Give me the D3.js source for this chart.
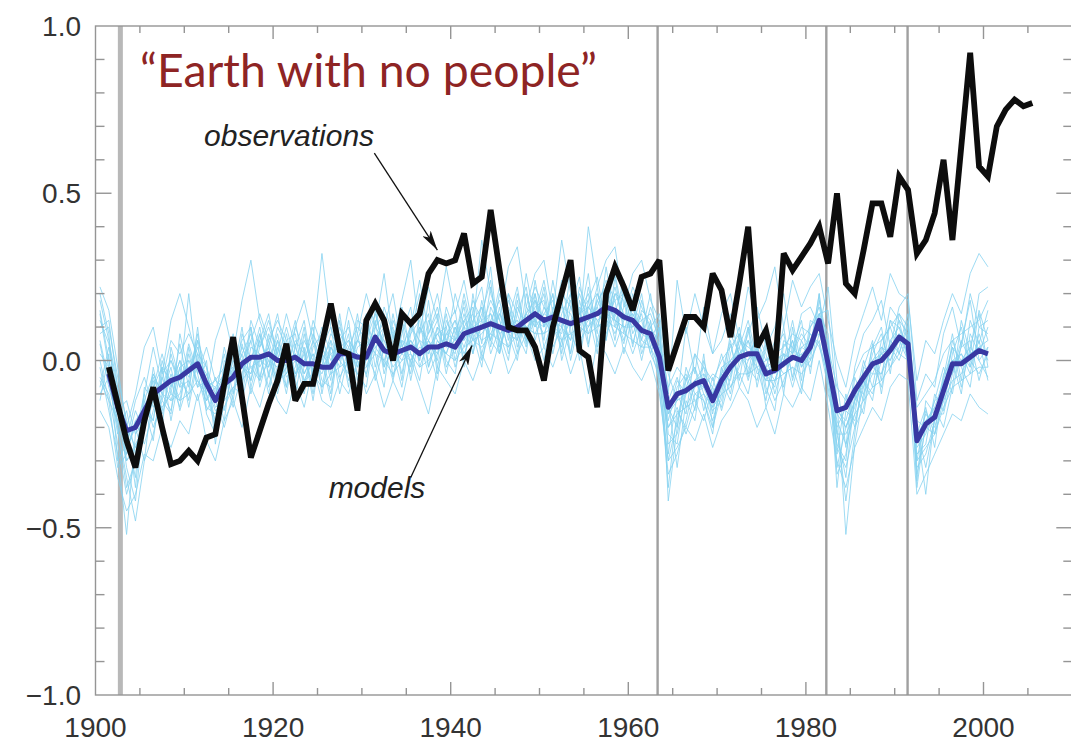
<!DOCTYPE html>
<html>
<head>
<meta charset="utf-8">
<script src="https://cdn.jsdelivr.net/npm/d3@7"></script>
<style>
  html, body { margin: 0; padding: 0; background: #fff; }
  svg { display: block; }
</style>
</head>
<body>
<svg id="chart" width="1071" height="743"></svg>
<script>
// Global mean temperature anomaly (°C, relative to 1901-1950), annual values.
const obsStart = 1901;
const observations = [
  -0.02, -0.13, -0.24, -0.32, -0.18, -0.08, -0.20, -0.31, -0.30,            // 1901-1909
  -0.27, -0.30, -0.23, -0.22, -0.07, 0.07, -0.11, -0.29, -0.21, -0.13,     // 1910s
  -0.06, 0.05, -0.12, -0.07, -0.07, 0.05, 0.17, 0.03, 0.02, -0.15,         // 1920s
  0.12, 0.17, 0.12, 0.00, 0.14, 0.11, 0.14, 0.26, 0.30, 0.29,              // 1930s
  0.30, 0.38, 0.23, 0.25, 0.45, 0.27, 0.10, 0.09, 0.09, 0.04,              // 1940s
  -0.06, 0.10, 0.20, 0.30, 0.03, 0.01, -0.14, 0.20, 0.28, 0.22,            // 1950s
  0.15, 0.25, 0.26, 0.30, -0.03, 0.05, 0.13, 0.13, 0.10, 0.26,             // 1960s
  0.21, 0.07, 0.23, 0.40, 0.04, 0.09, -0.03, 0.32, 0.27, 0.31,             // 1970s
  0.35, 0.40, 0.29, 0.50, 0.23, 0.20, 0.33, 0.47, 0.47, 0.37,              // 1980s
  0.55, 0.51, 0.32, 0.36, 0.44, 0.60, 0.36, 0.64, 0.92, 0.58,              // 1990s
  0.55, 0.70, 0.75, 0.78, 0.76, 0.77                                       // 2000-2005
];

// Ensemble mean of the natural-forcing simulations
const meanStart = 1901;
const modelMean = [
  -0.04, -0.14, -0.21, -0.20, -0.15, -0.10, -0.08, -0.06, -0.05,
  -0.03, -0.01, -0.07, -0.12, -0.07, -0.05, -0.01, 0.01, 0.01, 0.02,
  0.00, 0.00, 0.01, -0.01, -0.01, -0.02, -0.02, 0.02, 0.02, 0.01,
  0.01, 0.07, 0.03, 0.02, 0.03, 0.04, 0.02, 0.04, 0.04, 0.05,
  0.04, 0.08, 0.09, 0.10, 0.11, 0.10, 0.09, 0.10, 0.12, 0.14,
  0.12, 0.13, 0.12, 0.11, 0.12, 0.13, 0.14, 0.16, 0.15, 0.13,
  0.12, 0.09, 0.08, 0.01, -0.14, -0.10, -0.09, -0.07, -0.06, -0.12,
  -0.06, -0.02, 0.01, 0.02, 0.02, -0.04, -0.03, -0.01, 0.01, 0.00,
  0.04, 0.12, -0.01, -0.15, -0.14, -0.09, -0.05, -0.01, 0.00, 0.03,
  0.07, 0.05, -0.24, -0.19, -0.17, -0.09, -0.01, -0.01, 0.01, 0.03,
  0.02
];

// Individual simulations, 1900-2000
const runStart = 1900;
const run01 = [0.12,0.05,-0.10,-0.30,-0.25,-0.20,-0.05,-0.12,0.02,-0.08, 0.05,-0.04,-0.15,-0.10,0.02,-0.10,0.08,0.00,0.10,-0.05, 0.06,-0.08,0.10,0.03,-0.12,0.05,-0.06,0.12,-0.04,0.08, -0.05,0.15,0.02,0.10,-0.06,0.12,0.00,0.18,-0.02,0.10, 0.15,-0.02,0.20,0.05,0.22,0.08,0.00,0.18,0.05,0.24, 0.10,0.20,0.02,0.16,0.25,0.05,0.18,0.22,0.10,0.20, 0.05,0.15,0.12,-0.05,-0.30,-0.18,-0.05,-0.15,0.02,-0.20, -0.10,0.05,-0.06,0.10,-0.02,-0.12,0.04,0.08,-0.05,0.06, 0.00,0.18,0.05,-0.32,-0.20,-0.12,0.00,-0.08,0.06,0.10, 0.02,0.12,-0.30,-0.15,-0.22,-0.05,0.08,-0.06,0.12,0.05, 0.15];
const run02 = [-0.05,-0.10,-0.25,-0.40,-0.30,-0.12,-0.18,0.00,-0.10,0.05, -0.08,0.06,-0.02,-0.20,-0.10,0.00,-0.08,0.10,-0.05,0.06, -0.04,0.08,-0.05,0.02,0.10,-0.10,0.04,-0.02,0.12,-0.06, 0.08,0.02,-0.08,0.12,0.05,-0.04,0.14,0.02,0.10,-0.04, 0.08,0.16,0.02,0.18,0.06,0.20,0.12,0.02,0.20,0.10, 0.22,0.06,0.18,0.02,0.15,0.20,0.08,0.28,0.12,0.05, 0.18,0.02,0.10,0.05,-0.22,-0.25,-0.08,-0.02,-0.15,-0.05, -0.15,-0.05,0.08,-0.04,0.10,-0.08,-0.15,0.05,0.02,0.10, 0.08,0.05,-0.08,-0.25,-0.30,-0.05,-0.12,0.05,-0.06,0.12, 0.10,0.00,-0.28,-0.25,-0.10,-0.15,0.02,0.10,-0.02,0.15, 0.06];
const run03 = [0.20,0.08,-0.20,-0.35,-0.48,-0.30,-0.22,-0.10,-0.15,-0.02, -0.12,0.02,-0.10,-0.18,-0.02,-0.12,0.05,-0.06,0.04,0.12, 0.02,-0.10,0.05,-0.08,0.06,0.00,-0.12,0.06,0.10,-0.02, 0.04,0.10,0.14,-0.05,0.08,0.16,-0.02,0.06,0.12,0.00, -0.04,0.12,0.06,0.14,0.24,0.02,0.15,0.08,0.12,0.20, 0.04,0.12,0.24,0.08,0.02,0.18,0.25,0.10,0.20,0.14, 0.10,0.20,0.04,-0.02,-0.38,-0.15,-0.20,-0.10,-0.12,-0.22, -0.02,-0.10,0.04,0.12,0.00,-0.02,0.06,-0.10,0.10,-0.06, 0.12,0.10,0.02,-0.38,-0.15,-0.18,-0.08,0.04,0.10,-0.04, 0.14,0.06,-0.34,-0.20,-0.12,-0.02,-0.10,0.05,0.18,0.00, -0.05];
const run04 = [-0.12,0.02,-0.30,-0.25,-0.15,-0.22,-0.02,-0.15,-0.04,-0.12, 0.02,-0.08,0.00,-0.25,-0.05,0.04,-0.02,-0.06,0.08,-0.02, 0.10,0.04,-0.06,0.08,-0.04,0.04,0.10,-0.05,0.00,0.14, -0.02,0.06,0.10,0.00,0.16,0.02,-0.06,0.10,0.20,0.06, 0.12,0.00,0.15,0.22,0.04,0.16,0.02,0.14,0.22,0.06, 0.16,0.10,0.04,0.20,0.08,0.12,0.22,0.06,0.25,0.08, 0.20,0.06,0.16,0.08,-0.12,-0.32,-0.12,-0.18,0.00,-0.10, -0.04,0.06,-0.08,0.00,0.08,0.02,-0.10,0.00,0.12,-0.02, 0.02,0.20,-0.10,-0.20,-0.42,-0.22,-0.02,0.06,-0.10,0.06, 0.02,0.10,-0.20,-0.32,-0.18,-0.12,0.06,-0.02,-0.08,0.10, 0.12];
const run05 = [0.05,-0.08,-0.18,-0.22,-0.35,-0.08,-0.12,-0.20,0.04,-0.06, -0.10,0.10,-0.12,-0.05,-0.15,-0.02,0.06,0.10,-0.08,0.02, -0.10,0.02,0.12,-0.04,0.02,-0.08,0.06,0.00,0.08,-0.10, 0.12,0.04,0.00,0.08,-0.04,0.10,0.06,-0.04,0.02,0.14, 0.00,0.10,0.14,0.02,0.12,0.18,0.06,0.20,0.08,0.16, 0.18,0.02,0.14,0.20,0.06,0.22,0.10,0.18,0.06,0.22, 0.08,0.14,0.02,0.10,-0.28,-0.10,-0.16,0.02,-0.08,-0.15, -0.12,0.02,0.10,-0.05,0.05,-0.10,-0.02,0.10,-0.06,0.04, 0.06,0.08,0.00,-0.28,-0.10,-0.20,-0.06,-0.12,0.04,0.00, 0.08,0.02,-0.22,-0.14,-0.26,-0.06,-0.04,0.04,0.06,-0.06, 0.04];
const run06 = [0.15,0.00,-0.12,-0.28,-0.18,-0.25,-0.15,-0.05,-0.12,-0.10, 0.00,-0.02,-0.08,-0.15,-0.12,-0.08,-0.10,0.04,0.02,-0.08, 0.04,-0.05,-0.02,0.10,-0.06,-0.02,0.08,0.04,-0.06,0.04, 0.06,0.18,-0.02,0.04,0.10,-0.06,0.08,0.14,-0.04,0.08, 0.06,0.20,0.08,-0.02,0.16,0.10,0.20,0.04,0.14,0.18, 0.06,0.24,0.10,0.02,0.18,0.08,0.16,0.24,0.18,0.02, 0.14,0.08,0.20,0.02,-0.18,-0.08,-0.04,-0.12,-0.18,-0.08, 0.02,-0.08,-0.02,0.06,0.00,-0.06,0.02,-0.08,0.04,0.12, -0.04,0.14,0.08,-0.22,-0.35,-0.10,-0.16,0.00,0.02,0.16, 0.12,0.08,-0.38,-0.18,-0.14,-0.20,-0.08,0.12,0.02,0.20, 0.22];
const run07 = [-0.02,-0.15,-0.28,-0.52,-0.22,-0.18,-0.08,0.02,-0.08,0.00, -0.05,0.04,-0.06,-0.08,-0.18,0.02,0.00,-0.04,0.06,0.14, 0.00,0.10,0.00,-0.10,0.04,0.08,-0.04,0.02,0.06,-0.04, -0.08,0.10,0.06,-0.02,0.02,0.08,0.20,-0.02,0.06,0.02, 0.10,0.04,0.12,0.16,0.06,0.02,0.14,0.06,0.26,0.12, 0.08,0.14,0.18,0.00,0.12,0.26,0.04,0.12,0.22,0.10, 0.02,0.10,0.06,0.12,-0.42,-0.20,-0.06,-0.02,-0.10,-0.18, -0.08,0.08,0.02,-0.02,-0.06,0.06,0.00,-0.04,-0.02,-0.10, 0.10,0.14,0.15,-0.12,-0.52,-0.25,-0.10,0.02,0.08,-0.02, 0.04,0.14,-0.20,-0.40,-0.16,-0.08,0.04,-0.08,0.04,0.14, -0.02];
const run08 = [0.08,0.10,-0.05,-0.18,-0.38,-0.12,-0.04,-0.10,-0.02,-0.15, -0.06,-0.12,-0.04,-0.12,0.04,-0.06,0.02,0.08,-0.02,0.04, -0.06,-0.02,0.06,0.02,-0.08,0.02,-0.02,0.10,0.02,0.06, 0.02,-0.04,0.08,0.04,0.00,0.06,0.02,0.08,0.14,-0.02, 0.04,0.14,0.04,0.10,0.18,0.12,0.04,0.16,0.10,0.08, 0.14,0.18,0.06,0.12,0.16,0.04,0.20,0.14,0.08,0.16, 0.18,0.04,0.10,0.00,-0.25,-0.22,-0.10,-0.06,-0.02,-0.14, -0.04,-0.06,0.06,0.04,0.02,-0.04,-0.08,0.06,0.04,0.00, 0.08,0.04,-0.04,-0.18,-0.25,-0.16,-0.02,-0.04,-0.04,0.06, 0.10,0.04,-0.26,-0.22,-0.12,-0.10,0.00,0.02,-0.04,0.08, 0.00];
const run09 = [-0.10,-0.05,-0.22,-0.15,-0.28,-0.15,-0.18,-0.02,-0.18,-0.04, -0.02,0.00,-0.14,-0.16,-0.08,-0.04,0.04,-0.02,0.00,-0.02, 0.08,-0.04,0.02,-0.02,0.06,-0.06,-0.08,0.04,0.06,0.02, 0.00,0.12,-0.04,0.06,0.02,0.00,0.04,0.02,0.08,0.10, -0.02,0.08,0.10,0.06,0.08,0.14,0.10,0.12,0.04,0.18, 0.12,0.08,0.16,0.14,0.06,0.10,0.14,0.20,0.12,0.10, 0.10,0.12,0.02,-0.04,-0.12,-0.05,-0.14,-0.08,-0.06,-0.10, -0.08,-0.04,0.02,0.06,-0.04,-0.02,-0.06,0.02,0.00,0.04, 0.02,0.10,-0.06,-0.15,-0.18,-0.08,-0.10,-0.04,0.02,0.00, 0.06,0.00,-0.18,-0.20,-0.22,-0.12,-0.06,-0.04,0.02,0.04, 0.06];
const run10 = [0.18,0.06,-0.08,-0.24,-0.12,-0.05,-0.14,-0.06,0.06,0.02, 0.08,0.02,-0.02,-0.10,-0.04,-0.14,-0.04,0.06,0.14,0.06, 0.12,0.06,-0.04,0.06,0.00,0.10,0.02,-0.06,0.04,0.10, 0.06,0.02,0.16,0.08,0.12,0.04,0.10,0.06,0.00,0.16, 0.08,0.06,0.18,0.12,0.14,0.06,0.18,0.10,0.14,0.22, 0.16,0.12,0.20,0.16,0.10,0.16,0.20,0.12,0.18,0.20, 0.16,0.12,0.14,0.06,-0.08,-0.02,-0.06,0.02,-0.02,-0.06, 0.00,0.04,0.08,0.02,0.06,0.00,0.02,0.04,0.08,0.06, 0.10,0.16,0.04,-0.08,-0.12,-0.04,0.02,0.04,0.06,0.10, 0.14,0.10,-0.14,-0.10,-0.06,0.02,0.06,0.08,0.10,0.12, 0.18];
const run11 = [-0.06,-0.12,-0.18,-0.30,-0.26,-0.20,-0.12,-0.14,-0.10,-0.12, -0.10,-0.06,-0.10,-0.20,-0.14,-0.08,-0.06,-0.02,-0.06,0.00, -0.06,-0.04,0.00,-0.06,-0.04,-0.08,-0.04,-0.02,0.00,-0.04, -0.02,0.02,0.00,-0.04,0.00,0.02,-0.02,0.00,0.04,0.02, 0.00,0.04,0.06,0.04,0.08,0.06,0.04,0.08,0.10,0.08, 0.08,0.10,0.06,0.08,0.10,0.08,0.10,0.12,0.10,0.08, 0.06,0.04,0.04,-0.06,-0.20,-0.16,-0.14,-0.12,-0.10,-0.14, -0.10,-0.08,-0.04,-0.04,-0.02,-0.06,-0.06,-0.04,-0.02,-0.04, 0.00,0.06,-0.06,-0.22,-0.22,-0.16,-0.12,-0.08,-0.06,-0.02, 0.02,0.00,-0.30,-0.26,-0.22,-0.14,-0.08,-0.06,-0.04,-0.02, -0.02];
const run12 = [0.22,0.15,-0.02,-0.20,-0.10,0.04,0.10,-0.04,0.12,0.20, 0.10,0.00,-0.10,0.06,0.14,0.02,0.18,0.30,0.12,0.04, 0.14,0.00,0.10,0.18,0.06,0.32,0.10,0.02,0.16,0.08, 0.20,0.10,0.26,0.06,0.18,0.30,0.08,0.22,0.12,0.28, 0.14,0.24,0.10,0.36,0.20,0.12,0.28,0.34,0.16,0.26, 0.30,0.14,0.36,0.20,0.10,0.40,0.22,0.30,0.34,0.16, 0.26,0.30,0.18,0.12,-0.10,0.24,0.08,0.20,0.10,0.02, 0.14,0.20,0.06,0.22,0.12,0.18,0.28,0.10,0.24,0.16, 0.22,0.26,0.12,0.00,-0.08,0.06,0.14,0.22,0.12,0.26, 0.20,0.18,-0.06,0.06,0.02,0.12,0.20,0.14,0.26,0.32, 0.28];
const run13 = [-0.15,-0.20,-0.35,-0.45,-0.40,-0.28,-0.30,-0.20,-0.26,-0.18, -0.22,-0.10,-0.24,-0.30,-0.18,-0.12,-0.20,-0.08,-0.14,-0.04, -0.12,-0.16,-0.06,-0.14,-0.02,-0.12,-0.14,-0.06,-0.10,0.00, -0.10,-0.04,-0.14,-0.06,-0.12,0.00,-0.08,-0.16,-0.02,-0.06, -0.10,0.00,-0.06,0.02,-0.04,0.06,-0.04,0.02,0.08,0.00, 0.04,-0.02,0.06,-0.04,0.04,-0.10,0.06,0.02,-0.04,0.04, -0.02,-0.06,0.00,-0.10,-0.30,-0.26,-0.20,-0.24,-0.16,-0.26, -0.18,-0.14,-0.08,-0.12,-0.20,-0.14,-0.22,-0.10,-0.14,-0.08, -0.12,0.00,-0.14,-0.30,-0.38,-0.26,-0.20,-0.14,-0.18,-0.08, -0.04,-0.06,-0.40,-0.34,-0.28,-0.22,-0.16,-0.18,-0.10,-0.14, -0.16];
const run14 = [0.02,-0.02,-0.15,-0.12,-0.22,-0.10,0.04,-0.08,0.00,-0.06, 0.20,-0.04,0.04,-0.06,-0.02,0.08,-0.06,0.12,0.04,0.10, 0.02,0.14,0.04,-0.02,0.12,0.04,-0.02,0.14,-0.02,0.06, 0.14,-0.02,0.10,0.20,0.04,0.10,0.24,0.08,0.16,0.04, 0.20,0.10,0.02,0.12,0.28,0.04,0.12,0.22,0.06,0.14, 0.24,0.10,0.08,0.26,0.14,0.18,0.06,0.16,0.26,0.12, 0.22,0.16,0.10,0.14,-0.04,-0.12,0.10,-0.04,0.16,0.02, 0.06,0.14,0.00,0.08,0.16,0.04,0.10,0.20,0.02,0.14, 0.16,0.10,0.22,-0.06,-0.26,-0.02,0.08,0.12,0.18,0.04, 0.16,0.20,-0.12,-0.04,-0.08,0.08,0.16,0.04,0.20,0.10, 0.08];
const run15 = [0.06,-0.06,-0.20,-0.38,-0.30,-0.10,-0.20,-0.12,-0.16,0.08, -0.04,0.06,-0.16,-0.22,0.00,-0.04,0.10,-0.08,0.02,-0.10, 0.04,-0.02,-0.10,0.04,-0.10,0.06,0.00,0.06,-0.08,0.12, 0.10,-0.06,0.04,0.00,0.12,-0.02,0.10,0.04,-0.06,0.12, 0.06,0.12,0.16,0.00,0.10,0.22,0.08,0.00,0.16,0.12, 0.00,0.16,0.12,0.06,0.22,0.14,0.02,0.22,0.14,0.24, 0.12,0.00,0.12,-0.08,-0.34,-0.28,-0.18,-0.06,-0.12,-0.20, -0.06,-0.12,0.00,0.10,-0.08,0.04,-0.04,0.00,0.06,-0.08, 0.04,0.20,-0.02,-0.34,-0.28,-0.12,-0.06,-0.10,0.00,0.12, 0.06,0.06,-0.32,-0.28,-0.18,-0.04,0.00,-0.10,0.08,0.02, 0.10];
const run16 = [0.10,0.12,-0.08,-0.26,-0.20,-0.30,-0.08,-0.02,-0.06,-0.14, 0.04,-0.08,-0.06,-0.14,-0.12,0.04,-0.02,-0.04,0.06,0.00, -0.02,0.06,0.08,-0.06,0.00,-0.04,0.04,0.00,-0.04,0.06, 0.04,0.08,-0.02,0.14,0.02,0.06,0.00,0.12,0.06,0.02, 0.10,0.02,0.08,0.16,0.02,0.10,0.16,0.08,0.02,0.20, 0.10,0.20,0.00,0.10,0.20,0.12,0.16,0.08,0.14,0.06, 0.16,0.06,0.04,0.10,-0.16,-0.06,-0.10,-0.06,-0.04,-0.16, -0.02,0.00,0.04,-0.06,0.04,-0.04,-0.12,-0.06,0.02,0.08, 0.04,0.12,-0.02,-0.14,-0.20,-0.14,-0.04,-0.02,-0.04,0.02, 0.12,0.00,-0.24,-0.16,-0.20,-0.10,-0.02,0.02,-0.02,0.06, -0.06];
const run17 = [-0.08,0.04,-0.12,-0.32,-0.42,-0.16,-0.06,-0.16,-0.08,0.00, -0.14,0.00,-0.04,-0.12,-0.20,-0.10,0.00,0.06,-0.06,0.08, 0.00,-0.08,0.04,0.12,-0.04,0.00,0.06,-0.10,0.02,0.00, -0.04,0.06,0.12,0.02,-0.08,0.08,0.12,-0.02,0.10,0.06, 0.02,0.18,0.06,0.08,0.12,0.02,0.20,0.14,0.06,0.12, 0.20,0.04,0.10,0.18,0.00,0.16,0.12,0.06,0.20,0.18, 0.04,0.18,0.08,-0.02,-0.20,-0.14,-0.22,-0.14,-0.04,-0.08, -0.14,0.00,-0.04,-0.10,0.04,-0.14,-0.06,0.02,-0.08,0.02, -0.02,0.08,0.06,-0.26,-0.32,-0.20,-0.14,0.00,-0.08,0.04, 0.00,0.08,-0.36,-0.12,-0.16,-0.16,-0.04,0.06,0.00,-0.04, 0.02];
const run18 = [0.00,-0.12,-0.32,-0.28,-0.18,-0.14,-0.24,-0.04,0.00,-0.08, -0.06,0.08,-0.08,-0.06,-0.08,-0.06,0.02,-0.10,0.00,0.04, -0.08,0.02,-0.04,0.00,0.08,0.02,-0.10,0.08,0.04,-0.02, 0.06,0.14,0.04,-0.06,0.06,0.04,0.02,0.06,0.02,0.08, 0.12,0.06,0.10,0.12,0.06,0.14,0.08,0.06,0.14,0.10, 0.14,0.12,0.10,0.06,0.14,0.10,0.18,0.12,0.04,0.12, 0.14,0.08,0.06,0.04,-0.14,-0.20,-0.02,-0.10,-0.08,-0.04, -0.06,-0.02,0.06,0.02,-0.02,0.00,0.04,-0.02,0.06,-0.02, 0.06,0.14,0.00,-0.20,-0.14,-0.10,-0.08,0.00,0.04,0.02, 0.08,0.04,-0.24,-0.20,-0.14,-0.06,0.04,0.00,0.04,0.00, 0.04];
const run19 = [0.14,-0.02,-0.10,-0.20,-0.26,-0.18,-0.04,-0.10,-0.12,-0.02, 0.00,-0.06,-0.12,-0.08,-0.04,-0.02,-0.12,0.00,0.08,-0.04, 0.06,0.00,0.02,-0.04,0.02,-0.02,0.02,0.04,0.00,0.02, 0.00,0.04,0.06,0.02,0.06,0.00,0.06,0.04,0.08,0.04, 0.06,0.10,0.08,0.10,0.14,0.08,0.10,0.12,0.10,0.12, 0.10,0.14,0.12,0.10,0.14,0.16,0.12,0.14,0.12,0.10, 0.12,0.10,0.06,0.00,-0.16,-0.12,-0.10,-0.06,-0.08,-0.10, -0.04,0.00,0.02,0.00,0.04,-0.02,0.00,0.02,0.00,0.02, 0.04,0.10,-0.02,-0.16,-0.20,-0.12,-0.06,-0.02,0.02,0.04, 0.06,0.06,-0.22,-0.18,-0.16,-0.08,0.00,0.00,0.02,0.04, 0.02];
const modelRuns = [run01, run02, run03, run04, run05, run06, run07, run08, run09, run10,
                   run11, run12, run13, run14, run15, run16, run17, run18, run19];

// Major volcanic eruptions (Santa Maria, Agung, El Chichón, Pinatubo)
const eruptions = [1902.8, 1963.3, 1982.3, 1991.45];

// Axis ticks
const xTickLabels = [1900, 1920, 1940, 1960, 1980, 2000];
const yTickLabels = [1.0, 0.5, 0.0, -0.5, -1.0];

const titleText = "\u201CEarth with no people\u201D";

// ---- layout ----
const svg = d3.select("#chart");
const x = d3.scaleLinear().domain([1900, 2010]).range([95.5, 1072.3]);
const y = d3.scaleLinear().domain([-1, 1]).range([695, 26]);
const [x0, x1] = x.range();
const [yb, yt] = y.range();

const axisColor = "#959595";

// volcanic eruption markers
svg.append("g").selectAll("line").data(eruptions).join("line")
  .attr("x1", d => x(d)).attr("x2", d => x(d))
  .attr("y1", yt).attr("y2", yb)
  .attr("stroke", (d, i) => i === 0 ? "#b8b8b8" : "#a0a0a0")
  .attr("stroke-width", (d, i) => i === 0 ? 5 : 2.4);

const seriesLine = start => d3.line()
  .x((d, i) => x(start + i + 0.5))
  .y(d => y(d));

// individual simulations
svg.append("g").selectAll("path").data(modelRuns).join("path")
  .attr("d", seriesLine(runStart))
  .attr("fill", "none")
  .attr("stroke", "#86d2f0")
  .attr("stroke-opacity", 0.8)
  .attr("stroke-width", 1);

// ensemble mean
svg.append("path").datum(modelMean)
  .attr("d", seriesLine(meanStart))
  .attr("fill", "none")
  .attr("stroke", "#3838a2")
  .attr("stroke-width", 5)
  .attr("stroke-linejoin", "round");

// observations
svg.append("path").datum(observations)
  .attr("d", seriesLine(obsStart))
  .attr("fill", "none")
  .attr("stroke", "#0d0d0d")
  .attr("stroke-width", 5.8)
  .attr("stroke-linejoin", "miter")
  .attr("stroke-miterlimit", 3);

// frame with inward ticks on all four sides
const frame = svg.append("g").attr("stroke", axisColor).attr("stroke-width", 1.4).attr("fill", "none");
frame.append("rect").attr("x", x0).attr("y", yt).attr("width", x1 - x0).attr("height", yb - yt);

const xTicks = d3.range(1905, 2010, 5);
const xLen = d => (d % 20 === 0 ? 13 : 7);
frame.selectAll(".xb").data(xTicks).join("line")
  .attr("x1", d => x(d)).attr("x2", d => x(d))
  .attr("y1", yb).attr("y2", d => yb - xLen(d));
frame.selectAll(".xt").data(xTicks).join("line")
  .attr("x1", d => x(d)).attr("x2", d => x(d))
  .attr("y1", yt).attr("y2", d => yt + xLen(d));

const yTicks = d3.range(-9, 10).map(k => k / 10);
const yLen = d => (Math.abs(Math.round(d * 10)) % 5 === 0 ? 16 : 9);
frame.selectAll(".yl").data(yTicks).join("line")
  .attr("y1", d => y(d)).attr("y2", d => y(d))
  .attr("x1", x0).attr("x2", d => x0 + yLen(d));
frame.selectAll(".yr").data(yTicks).join("line")
  .attr("y1", d => y(d)).attr("y2", d => y(d))
  .attr("x1", x1).attr("x2", d => x1 - yLen(d));

// tick labels
const labelFont = "'Liberation Sans', Arial, Helvetica, sans-serif";
svg.append("g").selectAll("text").data(xTickLabels).join("text")
  .attr("x", d => x(d)).attr("y", 737)
  .attr("text-anchor", "middle")
  .attr("font-family", labelFont).attr("font-size", 28)
  .attr("fill", "#333")
  .text(d => d);

svg.append("g").selectAll("text").data(yTickLabels).join("text")
  .attr("x", 81).attr("y", d => y(d)).attr("dy", "0.36em")
  .attr("text-anchor", "end")
  .attr("font-family", labelFont).attr("font-size", 28)
  .attr("fill", "#333")
  .text(d => d3.format(".1f")(d).replace("-", "\u2212"));

// title
const title = svg.append("text")
  .attr("x", 140).attr("y", 87)
  .attr("font-family", "Lato, 'Open Sans', sans-serif")
  .attr("font-size", 40)
  .attr("fill", "#8e2424")
  .text(titleText);
const tw = title.node().getComputedTextLength();
title.attr("font-size", 40 * 457 / tw);

// annotations with arrows
svg.append("defs").append("marker")
  .attr("id", "head").attr("viewBox", "0 0 20 10")
  .attr("refX", 20).attr("refY", 5)
  .attr("markerWidth", 20).attr("markerHeight", 10)
  .attr("markerUnits", "userSpaceOnUse")
  .attr("orient", "auto")
  .append("path").attr("d", "M0,0 L20,5 L0,10 L5,5 Z").attr("fill", "#111");

const notes = [
  { text: "observations", tx: 1921.8, ty: 0.64, from: [1931.4, 0.62], to: [1938.5, 0.33] },
  { text: "models", tx: 1931.7, ty: -0.41, from: [1935.5, -0.35], to: [1942.4, 0.045] }
];
notes.forEach(n => {
  svg.append("text")
    .attr("x", x(n.tx)).attr("y", y(n.ty))
    .attr("text-anchor", "middle")
    .attr("font-family", labelFont).attr("font-style", "italic")
    .attr("font-size", 30).attr("fill", "#222")
    .text(n.text);
  svg.append("line")
    .attr("x1", x(n.from[0])).attr("y1", y(n.from[1]))
    .attr("x2", x(n.to[0])).attr("y2", y(n.to[1]))
    .attr("stroke", "#111").attr("stroke-width", 1.3)
    .attr("marker-end", "url(#head)");
});
</script>
</body>
</html>
